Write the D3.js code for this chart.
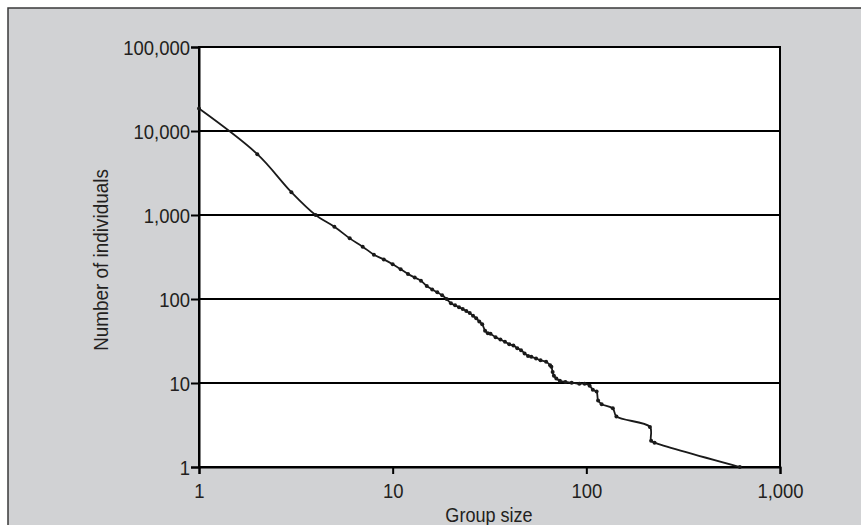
<!DOCTYPE html>
<html>
<head>
<meta charset="utf-8">
<script src="https://cdn.jsdelivr.net/npm/d3@7"></script>
<style>
  html, body { margin: 0; padding: 0; background: #fff; }
  svg { display: block; }
  text { font-family: "Liberation Sans", Arial, sans-serif; fill: #231f20; }
</style>
</head>
<body>
<svg id="chart" width="861" height="525"></svg>
<script>
// Data
const groupSizes = [1, 2, 3, 4, 5, 6, 7, 8, 9, 10, 11, 12, 13, 14, 15, 16, 17, 18, 19, 20,
  21, 22, 23, 24, 25, 26, 27, 28, 29, 30, 31, 32, 34, 36, 38, 40, 42, 44, 46, 48,
  50, 52, 55, 58, 62, 65, 66, 67, 68, 70, 73, 78, 84, 92, 98, 104, 108, 113, 115, 120,
  137, 143, 213, 216, 225, 620];
const individuals = [18500, 5300, 1870, 1000, 725, 527, 420, 337, 296, 259, 226, 199, 180, 165, 143, 130, 120, 111, 100, 89,
  84, 80, 76, 72, 68, 63, 59, 54, 50, 42, 39, 38.5, 35, 33, 31, 29, 28, 26, 24.6, 22.5,
  21, 20.5, 19.6, 18.6, 17.9, 16.3, 15.6, 13.5, 12.2, 11.3, 10.6, 10.3, 10.1, 9.8, 9.8, 9.3, 8.3, 7.9, 6.2, 5.6,
  5.0, 4.0, 3.0, 2.05, 1.95, 1.0];
const yTicks = [1, 10, 100, 1000, 10000, 100000];
const xTicks = [1, 10, 100, 1000];
const xTitle = "Group size";
const yTitle = "Number of individuals";

const svg = d3.select("#chart");
const mLeft = 199, mRight = 780, mTop = 47, mBottom = 467;
const squeeze = 0.88; // condensed look

// outer frame
svg.append("rect").attr("x", 8).attr("y", 8).attr("width", 880).attr("height", 540)
  .attr("fill", "#d1d2d4").attr("stroke", "#3a3a3a").attr("stroke-width", 1.5);

const x = d3.scaleLog().domain([1, 1000]).range([mLeft, mRight]);
const y = d3.scaleLog().domain([1, 100000]).range([mBottom, mTop]);

// plot area
svg.append("rect").attr("x", mLeft).attr("y", mTop).attr("width", mRight - mLeft).attr("height", mBottom - mTop)
  .attr("fill", "#fff");

// gridlines
svg.append("g").selectAll("line").data(yTicks).join("line")
  .attr("x1", mLeft).attr("x2", mRight)
  .attr("y1", d => y(d)).attr("y2", d => y(d))
  .attr("stroke", "#000").attr("stroke-width", 2);

// border
svg.append("rect").attr("x", mLeft).attr("y", mTop).attr("width", mRight - mLeft).attr("height", mBottom - mTop)
  .attr("fill", "none").attr("stroke", "#000").attr("stroke-width", 2);

// axes
const fmt = d3.format(",");
const yAxis = svg.append("g").attr("transform", `translate(${mLeft},0)`)
  .call(d3.axisLeft(y).tickValues(yTicks).tickFormat(fmt).tickSize(8).tickPadding(1));
const xAxis = svg.append("g").attr("transform", `translate(0,${mBottom})`)
  .call(d3.axisBottom(x).tickValues(xTicks).tickFormat(fmt).tickSize(7).tickPadding(9));
[yAxis, xAxis].forEach(g => {
  g.select(".domain").attr("stroke", "#000").attr("stroke-width", 2);
  g.selectAll(".tick line").attr("stroke", "#000").attr("stroke-width", 2);
  g.selectAll(".tick text").attr("font-size", 21).attr("fill", "#231f20")
    .attr("font-family", "'Liberation Sans', Arial, sans-serif")
    .attr("transform", `scale(${squeeze},1)`);
});
yAxis.selectAll(".tick text").attr("x", -9 / squeeze).attr("dy", "0.36em");

// line
const pts = groupSizes.map((g, i) => [g, individuals[i]]);
const line = d3.line().x(d => x(d[0])).y(d => y(d[1])).curve(d3.curveCatmullRom.alpha(0.5));
svg.append("path").datum(pts).attr("d", line)
  .attr("fill", "none").attr("stroke", "#1a1a1a").attr("stroke-width", 1.8);
svg.append("g").selectAll("circle").data(pts).join("circle")
  .attr("cx", d => x(d[0])).attr("cy", d => y(d[1])).attr("r", 2)
  .attr("fill", "#1a1a1a");

// titles
svg.append("text").attr("transform", `translate(489,522) scale(0.86,1)`).attr("text-anchor", "middle")
  .attr("font-size", 21).text(xTitle);
svg.append("text").attr("transform", "translate(108,260) rotate(-90) scale(0.9,1)").attr("text-anchor", "middle")
  .attr("font-size", 21).text(yTitle);
</script>
</body>
</html>
